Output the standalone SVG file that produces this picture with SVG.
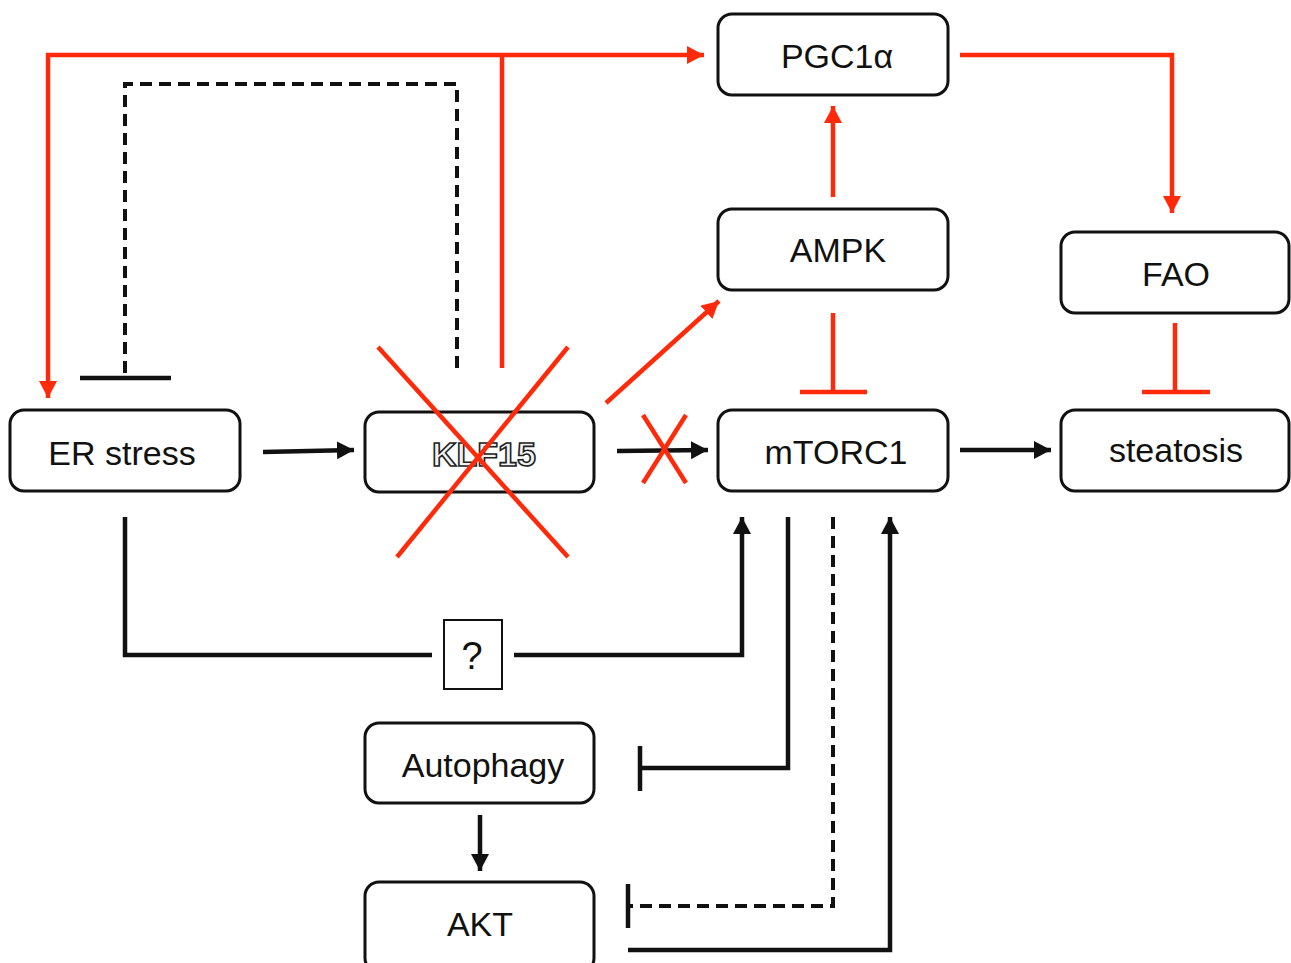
<svg xmlns="http://www.w3.org/2000/svg" width="1291" height="963" viewBox="0 0 1291 963">
<style>
.box{fill:#fff;stroke:#111;stroke-width:3}
.lbl{font-family:"Liberation Sans",Arial,sans-serif;font-size:34px;fill:#111;text-anchor:middle}
.k{fill:none;stroke:#111;stroke-width:4.5}
.kd{fill:none;stroke:#111;stroke-width:4;stroke-dasharray:12,7}
.r{fill:none;stroke:#ff2a0a;stroke-width:4.5}
</style>
<defs>
<marker id="ak" markerUnits="userSpaceOnUse" markerWidth="20" markerHeight="20" refX="17" refY="9" orient="auto-start-reverse"><path d="M0,0 L17,9 L0,18 z" fill="#111"/></marker>
<marker id="ar" markerUnits="userSpaceOnUse" markerWidth="20" markerHeight="20" refX="17" refY="9" orient="auto-start-reverse"><path d="M0,0 L17,9 L0,18 z" fill="#ff2a0a"/></marker>
</defs>
<rect width="1291" height="963" fill="#fff"/>
<g id="connectors">
<polyline class="r" points="48,398 48,55 704,55" marker-start="url(#ar)" marker-end="url(#ar)"/>
<line class="r" x1="502" y1="55" x2="502" y2="368"/>
<polyline class="kd" points="457,368 457,84 125,84 125,378"/>
<line class="k" x1="80" y1="378" x2="171" y2="378"/>
<line class="k" x1="263" y1="452" x2="354" y2="450" marker-end="url(#ak)"/>
<line class="k" x1="617" y1="451" x2="708" y2="450" marker-end="url(#ak)"/>
<line class="r" x1="643" y1="415" x2="686" y2="483"/>
<line class="r" x1="686" y1="415" x2="643" y2="483"/>
<line class="r" x1="606" y1="403" x2="719" y2="301" marker-end="url(#ar)"/>
<line class="r" x1="833" y1="197" x2="833" y2="106" marker-end="url(#ar)"/>
<line class="r" x1="833" y1="313" x2="833" y2="392"/>
<line class="r" x1="800" y1="392" x2="867" y2="392"/>
<polyline class="r" points="960,55 1172,55 1172,213" marker-end="url(#ar)"/>
<line class="r" x1="1175" y1="323" x2="1175" y2="392"/>
<line class="r" x1="1142" y1="392" x2="1210" y2="392"/>
<line class="k" x1="960" y1="450" x2="1051" y2="450" marker-end="url(#ak)"/>
<polyline class="k" points="125,517 125,655 432,655"/>
<polyline class="k" points="514,655 742,655 742,517" marker-end="url(#ak)"/>
<polyline class="k" points="788,517 788,768 640,768"/>
<line class="k" x1="640" y1="746" x2="640" y2="791"/>
<polyline class="kd" points="833,517 833,906 630,906"/>
<line class="k" x1="628" y1="884" x2="628" y2="928"/>
<polyline class="k" points="628,950 890,950 890,517" marker-end="url(#ak)"/>
<line class="k" x1="480" y1="815" x2="480" y2="871" marker-end="url(#ak)"/>
</g>
<g id="PGC1a"><rect class="box" x="718" y="14" width="230" height="81" rx="14"/><text class="lbl" x="837" y="68">PGC1α</text></g>
<g id="AMPK"><rect class="box" x="718" y="209" width="230" height="81" rx="14"/><text class="lbl" x="838" y="262">AMPK</text></g>
<g id="FAO"><rect class="box" x="1061" y="232" width="228" height="81" rx="14"/><text class="lbl" x="1176" y="286">FAO</text></g>
<g id="mTORC1"><rect class="box" x="718" y="410" width="230" height="81" rx="14"/><text class="lbl" x="836" y="464">mTORC1</text></g>
<g id="steatosis"><rect class="box" x="1061" y="410" width="228" height="81" rx="14"/><text class="lbl" x="1176" y="462">steatosis</text></g>
<g id="ERstress"><rect class="box" x="10" y="410" width="230" height="81" rx="14"/><text class="lbl" x="122" y="465">ER stress</text></g>
<g id="KLF15"><rect class="box" x="365" y="412" width="229" height="80" rx="14"/><text class="lbl" x="484" y="466" style="font-weight:bold;fill:#f2f2f2;stroke:#222;stroke-width:1.6">KLF15</text></g>
<g id="Autophagy"><rect class="box" x="365" y="723" width="229" height="80" rx="14"/><text class="lbl" x="483" y="777">Autophagy</text></g>
<g id="AKT"><rect class="box" x="365" y="882" width="229" height="90" rx="14"/><text class="lbl" x="480" y="936">AKT</text></g>
<g id="question"><rect x="444" y="620" width="58" height="69" fill="#fff" stroke="#111" stroke-width="2"/><text class="lbl" x="472" y="669" style="font-size:38px">?</text></g>
<g id="klf15-cross">
<line class="r" x1="378" y1="347" x2="568" y2="557"/>
<line class="r" x1="568" y1="347" x2="397" y2="557"/>
</g>
</svg>
